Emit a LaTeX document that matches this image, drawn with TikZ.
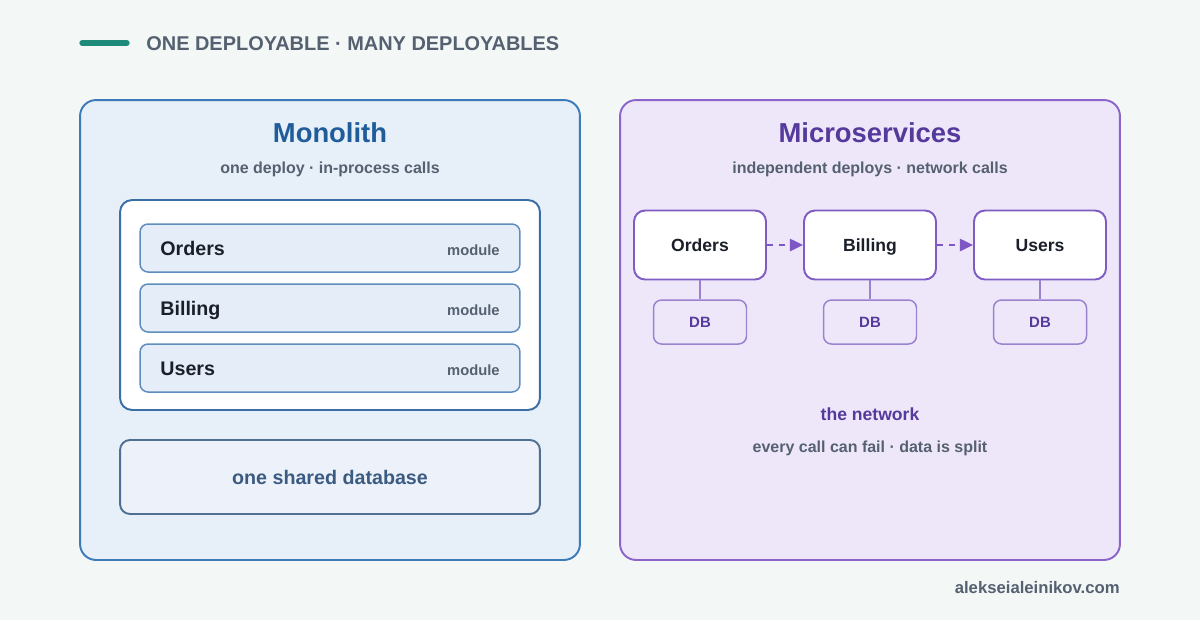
\documentclass[tikz,border=0pt]{standalone}
\usepackage{fontspec}
\setmainfont{Liberation Sans}
\usepackage{xcolor}
\usepackage{tikz}
\usetikzlibrary{arrows.meta}

\definecolor{bgcol}{HTML}{F3F8F7}
\definecolor{tealbar}{HTML}{1E8A7A}
\definecolor{graytxt}{HTML}{556070}
\definecolor{darktxt}{HTML}{1A1F29}
\definecolor{monoFill}{HTML}{E7EFF9}
\definecolor{monoEdge}{HTML}{3C7ABA}
\definecolor{monoTitle}{HTML}{1F5C99}
\definecolor{innerEdge}{HTML}{3A6EA5}
\definecolor{modFill}{HTML}{E5EEF8}
\definecolor{modEdge}{HTML}{5F8DBD}
\definecolor{dbFill}{HTML}{EDF2FA}
\definecolor{dbEdge}{HTML}{4F6F93}
\definecolor{dbTxt}{HTML}{3B5B82}
\definecolor{microFill}{HTML}{EEE7FA}
\definecolor{microEdge}{HTML}{8B65C9}
\definecolor{microTitle}{HTML}{553A9C}
\definecolor{svcEdge}{HTML}{7E5CC2}
\definecolor{sdbEdge}{HTML}{9A82CF}
\definecolor{arrowcol}{HTML}{7D57C6}

\begin{document}
\begin{tikzpicture}[x=0.02cm, y=-0.02cm, >=Stealth,
    panel/.style={line width=1.1pt, rounded corners=0.32cm, minimum width=10cm, minimum height=9.2cm, inner sep=0pt},
    module/.style={draw=modEdge, fill=modFill, line width=0.85pt, rounded corners=0.16cm, minimum width=7.6cm, minimum height=0.96cm, inner sep=0pt},
    svc/.style={draw=svcEdge, fill=white, line width=1.1pt, rounded corners=0.22cm, minimum width=2.64cm, minimum height=1.38cm, inner sep=0pt,
        font=\fontsize{10}{12}\selectfont\bfseries, text=darktxt, text height=7.16pt, text depth=0pt},
    sdb/.style={draw=sdbEdge, fill=microFill, line width=0.85pt, rounded corners=0.16cm, minimum width=1.86cm, minimum height=0.88cm, inner sep=0pt,
        font=\fontsize{8.5}{10}\selectfont\bfseries, text=microTitle, text height=6.1pt, text depth=0pt},
    title/.style={anchor=base, font=\fontsize{15.6}{18}\selectfont\bfseries},
    sub/.style={anchor=base, text=graytxt, font=\fontsize{9.1}{11}\selectfont\bfseries},
    modlabel/.style={anchor=base west, inner sep=0pt, text=darktxt, font=\fontsize{11.2}{13}\selectfont\bfseries},
    modtag/.style={anchor=base east, inner sep=0pt, text=graytxt, font=\fontsize{8.4}{10}\selectfont\bfseries},
    call/.style={arrowcol, line width=1.1pt, dash pattern=on 3.4pt off 3.4pt, -{Triangle[length=7.5pt, width=7pt]}}]

    % Background
    \fill[bgcol] (0,0) rectangle (1200,620);

    % Header
    \coordinate (barL) at (82,43);
    \coordinate (barR) at (127,43);
    \draw[tealbar, line width=3pt, line cap=round] (barL) -- (barR);
    \node[anchor=base west, inner sep=0pt, text=graytxt, font=\fontsize{11.35}{13}\selectfont\bfseries] (header) at (146,50) {ONE DEPLOYABLE · MANY DEPLOYABLES};

    % Monolith
    \node[panel, draw=monoEdge, fill=monoFill] (mono) at (330,330) {};
    \node[title, text=monoTitle] (monoTitle) at (330,142) {Monolith};
    \node[sub] (monoSub) at (330,173) {one deploy · in-process calls};
    \node[draw=innerEdge, fill=white, line width=1.1pt, rounded corners=0.24cm, minimum width=8.4cm, minimum height=4.2cm] (app) at (330,305) {};

    \node[module] (modOrders) at (330,248) {};
    \node[module] (modBilling) at (330,308) {};
    \node[module] (modUsers) at (330,368) {};
    \node[modlabel] (lblOrders) at (160,255) {Orders};
    \node[modlabel] (lblBilling) at (160,315) {Billing};
    \node[modlabel] (lblUsers) at (160,375) {Users};
    \node[modtag] (tagOrders) at (500,255) {module};
    \node[modtag] (tagBilling) at (500,315) {module};
    \node[modtag] (tagUsers) at (500,375) {module};

    \node[draw=dbEdge, fill=dbFill, line width=1.1pt, rounded corners=0.2cm, minimum width=8.4cm, minimum height=1.48cm] (sharedDB) at (330,477) {};
    \node[anchor=base, text=dbTxt, font=\fontsize{11.2}{13}\selectfont\bfseries] (sharedLbl) at (330,484) {one shared database};

    % Microservices
    \node[panel, draw=microEdge, fill=microFill] (micro) at (870,330) {};
    \node[title, text=microTitle] (microTitle) at (870,142) {Microservices};
    \node[sub] (microSub) at (870,173) {independent deploys · network calls};

    \node[svc] (svcOrders) at (700,245) {Orders};
    \node[svc] (svcBilling) at (870,245) {Billing};
    \node[svc] (svcUsers) at (1040,245) {Users};
    \node[sdb] (dbOrders) at (700,322) {DB};
    \node[sdb] (dbBilling) at (870,322) {DB};
    \node[sdb] (dbUsers) at (1040,322) {DB};

    \draw[sdbEdge, line width=0.85pt] (svcOrders) -- (dbOrders);
    \draw[sdbEdge, line width=0.85pt] (svcBilling) -- (dbBilling);
    \draw[sdbEdge, line width=0.85pt] (svcUsers) -- (dbUsers);

    \draw[call] (svcOrders) -- (svcBilling);
    \draw[call] (svcBilling) -- (svcUsers);

    \node[anchor=base, text=microTitle, font=\fontsize{10}{12}\selectfont\bfseries] (netTitle) at (870,420) {the network};
    \node[sub] (netSub) at (870,452) {every call can fail · data is split};

    % Footer
    \node[anchor=base east, inner sep=0pt, text=graytxt, font=\fontsize{9.5}{11}\selectfont\bfseries] (footer) at (1120,593) {alekseialeinikov.com};
\end{tikzpicture}
\end{document}
